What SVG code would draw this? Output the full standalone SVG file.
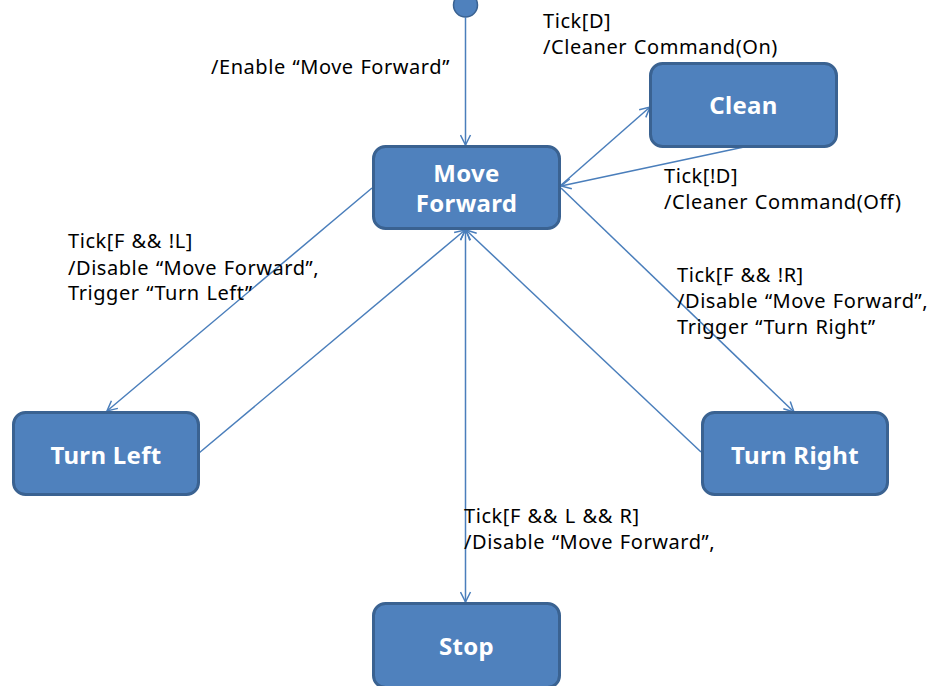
<svg xmlns="http://www.w3.org/2000/svg" width="931" height="686" viewBox="0 0 931 686">
<style>
.node rect{fill:#4F81BD;stroke:#3A6291;stroke-width:3}
.node text{fill:#fff;font-family:"Noto Sans","Open Sans",sans-serif;font-weight:bold;font-size:24px;letter-spacing:0.3px;text-anchor:middle}
.lbl{fill:#000;font-family:"Noto Sans","Open Sans",sans-serif;font-size:20px;letter-spacing:0.55px;word-spacing:1px}
.conn line{stroke:#4A7EBB;stroke-width:1.5;fill:none}
</style>
<defs>
<marker id="ah" viewBox="0 0 12 12" refX="11" refY="6" markerWidth="12" markerHeight="12" markerUnits="userSpaceOnUse" orient="auto-start-reverse">
<path d="M1,1 L11,6 L1,11" fill="none" stroke="#4A7EBB" stroke-width="1.5"/>
</marker>
</defs>
<g id="initial"><circle cx="465.5" cy="5" r="12" fill="#4F81BD" stroke="#3A6291" stroke-width="1.5"/></g>
<g class="conn" id="connectors">
<line x1="465.5" y1="17" x2="465.5" y2="145" marker-end="url(#ah)"/>
<line x1="560" y1="186" x2="650" y2="107" marker-end="url(#ah)"/>
<line x1="744" y1="147" x2="561" y2="186" marker-end="url(#ah)"/>
<line x1="561" y1="188" x2="794" y2="412" marker-end="url(#ah)"/>
<line x1="701" y1="452" x2="466" y2="230" marker-end="url(#ah)"/>
<line x1="372" y1="188" x2="107" y2="411" marker-end="url(#ah)"/>
<line x1="199" y1="453" x2="465" y2="230" marker-end="url(#ah)"/>
<line x1="465.5" y1="230" x2="465.5" y2="602" marker-start="url(#ah)" marker-end="url(#ah)"/>
</g>
<g class="node" id="move-forward"><rect x="373.5" y="146.5" width="186" height="82" rx="12"/><text x="466.5" y="182">Move</text><text x="466.5" y="212">Forward</text></g>
<g class="node" id="clean"><rect x="650.5" y="63.5" width="186" height="83" rx="12"/><text x="743.5" y="114">Clean</text></g>
<g class="node" id="turn-left"><rect x="13.5" y="412.5" width="185" height="82" rx="12"/><text x="106" y="464">Turn Left</text></g>
<g class="node" id="turn-right"><rect x="702.5" y="412.5" width="185" height="82" rx="12"/><text x="795" y="464">Turn Right</text></g>
<g class="node" id="stop"><rect x="373.5" y="603.5" width="186" height="84" rx="12"/><text x="466.5" y="655">Stop</text></g>
<g id="labels">
<text class="lbl" x="211" y="74">/Enable “Move Forward”</text>
<text class="lbl" x="543" y="28">Tick[D]</text>
<text class="lbl" x="543" y="54">/Cleaner Command(On)</text>
<text class="lbl" x="664" y="183">Tick[!D]</text>
<text class="lbl" x="664" y="209">/Cleaner Command(Off)</text>
<text class="lbl" x="68" y="248">Tick[F &amp;&amp; !L]</text>
<text class="lbl" x="68" y="275">/Disable “Move Forward”,</text>
<text class="lbl" x="68" y="300">Trigger “Turn Left”</text>
<text class="lbl" x="677" y="282">Tick[F &amp;&amp; !R]</text>
<text class="lbl" x="677" y="308">/Disable “Move Forward”,</text>
<text class="lbl" x="677" y="334">Trigger “Turn Right”</text>
<text class="lbl" x="464" y="523">Tick[F &amp;&amp; L &amp;&amp; R]</text>
<text class="lbl" x="464" y="549">/Disable “Move Forward”,</text>
</g>
</svg>
